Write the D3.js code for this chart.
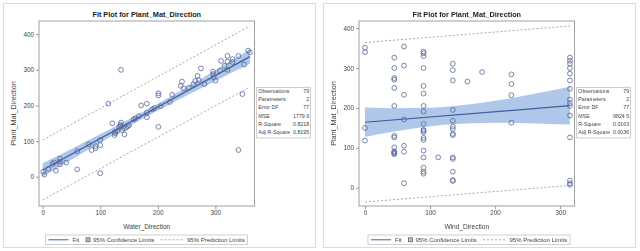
<!DOCTYPE html>
<html>
<head>
<meta charset="utf-8">
<script src="https://cdn.jsdelivr.net/npm/d3@7/dist/d3.min.js"></script>
<style>
  html, body { margin: 0; padding: 0; background: #fff; }
  svg { display: block; font-family: "Liberation Sans", Arial, sans-serif; opacity: 0.999; }
</style>
</head>
<body>
<svg width="640" height="251"></svg>
<script>
// ---- left panel: Water_Direction ----
var waterX = [1, 3, 17, 20, 23, 30, 30, 41, 60, 60, 80, 85, 92, 100, 100, 100, 114, 121, 125, 126,
    130, 136, 136, 136, 138, 141, 142, 148, 158, 161, 167, 171, 181, 181, 181, 190, 194, 201, 201, 201,
    221, 225, 240, 242, 245, 254, 265, 269, 271, 275, 281, 296, 296, 297, 300, 308, 310, 316, 321, 321,
    321, 330, 340, 340, 347, 350, 357, 360, 135, 133, 145, 126, 150, 30, 10, 92, 205, 262, 330];
var waterY = [14, 6, 36, 40, 17, 51, 35, 40, 72, 21, 91, 75, 86, 103, 89, 10, 205, 150, 117, 126,
    128, 152, 142, 300, 131, 136, 119, 142, 161, 164, 170, 200, 205, 167, 180, 189, 193, 234, 228, 140,
    210, 230, 255, 267, 248, 250, 269, 283, 271, 304, 260, 295, 288, 279, 270, 298, 325, 311, 339, 323,
    300, 330, 339, 75, 232, 315, 354, 349, 146, 140, 138, 122, 145, 43, 22, 80, 198, 260, 322];
var waterFitX = [0, 360];
var waterFitY = [19, 337];
var waterPredLo = [-65, 252];
var waterPredHi = [103, 423];
var waterBandX = [0, 60, 120, 175, 240, 300, 360];
var waterBandLo = [0, 57.6, 114.2, 164.1, 219.7, 268.9, 317.2];
var waterBandHi = [38, 86.4, 135.8, 182.9, 242.3, 299.1, 356.8];
var waterStats = ["79", "2", "77", "1779.9", "0.8218", "0.8195"];

// ---- right panel: Wind_Direction ----
var windX = [0, 0, 0, 0,
    45, 45, 45, 45, 45, 45, 45, 45, 45, 45, 45, 45, 45,
    60, 60, 60, 60, 60, 60, 60,
    90, 90, 90, 90, 90, 90, 90, 90, 90, 90, 90, 90, 90, 90, 90, 90, 90, 90, 90,
    112.5,
    135, 135, 135, 135, 135, 135, 135, 135, 135, 135, 135, 135, 135, 135,
    157.5, 180,
    225, 225, 225, 225,
    315, 315, 315, 315, 315, 315, 315, 315, 315, 315, 315, 315, 315, 315, 315];
var windY = [351, 340, 150, 118,
    326, 300, 275, 271, 250, 205, 130, 126, 101, 91, 88, 86, 84,
    354, 306, 233, 171, 105, 90, 11,
    341, 337, 330, 300, 255, 236, 205, 191, 160, 143, 139, 125, 120, 93, 76, 50, 40, 35, 145,
    76,
    311, 295, 269, 195, 168, 153, 147, 135, 132, 76, 72, 40, 19, 17,
    266, 290,
    284, 260, 232, 163,
    326, 318, 311, 300, 286, 269, 248, 221, 212, 205, 181, 126, 18, 11, 7];
var windFitX = [0, 315];
var windFitY = [164, 205.6];
var windPredLo = [-36, 5.6];
var windPredHi = [364, 405.6];
var windBandX = [0, 50, 100, 130, 200, 250, 315];
var windBandLo = [127, 141.8, 153.8, 158.8, 163, 161.8, 158.1];
var windBandHi = [201, 199.4, 200.6, 203.6, 217.8, 232.2, 253.1];
var windStats = ["79", "2", "77", "9824.5", "0.0163", "0.0036"];

var statNames = ["Observations", "Parameters", "Error DF", "MSE", "R-Square", "Adj R-Square"];
var xTicks = [0, 100, 200, 300];
var yTicks = [0, 100, 200, 300, 400];
var title = "Fit Plot for Plant_Mat_Direction";
var yLabel = "Plant_Mat_Direction";

var lineColor = "#3f5e9e",
    bandColor = "#a6c1e5",
    markColor = "#56679a",
    predColor = "#a8a8a8",
    textColor = "#444";

function drawPanel(svg, ox, p) {
    var g = svg.append("g").attr("transform", "translate(" + ox + ",0)");
    var left = 39, right = 254.5, top = 21, bottom = 206;

    g.append("rect")
        .attr("x", 3.5).attr("y", 3.5).attr("width", 312).attr("height", 244)
        .attr("fill", "#fff").attr("stroke", "#dcdcdc");

    var x = d3.scaleLinear().domain(p.xDomain).range([left, right]);
    var y = d3.scaleLinear().domain(p.yDomain).range([bottom, top]);

    // prediction limits
    [p.predLo, p.predHi].forEach(function(vals) {
        g.append("line")
            .attr("x1", x(p.fitX[0])).attr("y1", y(vals[0]))
            .attr("x2", x(p.fitX[1])).attr("y2", y(vals[1]))
            .attr("stroke", predColor).attr("stroke-width", 1)
            .attr("stroke-dasharray", "2,2");
    });

    // confidence band
    var band = d3.area()
        .x(function(d, i) { return x(p.bandX[i]); })
        .y0(function(d, i) { return y(p.bandLo[i]); })
        .y1(function(d, i) { return y(p.bandHi[i]); })
        .curve(d3.curveMonotoneX);
    g.append("path")
        .attr("d", band(p.bandX))
        .attr("fill", bandColor).attr("fill-opacity", 0.9);

    // fit line
    g.append("line")
        .attr("x1", x(p.fitX[0])).attr("y1", y(p.fitY[0]))
        .attr("x2", x(p.fitX[1])).attr("y2", y(p.fitY[1]))
        .attr("stroke", lineColor).attr("stroke-width", 1.2);

    // observations
    g.append("g").selectAll("circle")
        .data(p.xs)
        .enter()
            .append("circle")
            .attr("cx", function(d) { return x(d); })
            .attr("cy", function(d, i) { return y(p.ys[i]); })
            .attr("r", 2.4)
            .attr("fill", "none")
            .attr("stroke", markColor)
            .attr("stroke-width", 0.8);

    // plot frame
    g.append("rect")
        .attr("x", left).attr("y", top)
        .attr("width", right - left).attr("height", bottom - top)
        .attr("fill", "none").attr("stroke", "#a0a0a0");

    var xAxis = g.append("g")
        .attr("transform", "translate(0," + bottom + ")")
        .call(d3.axisBottom(x).tickValues(xTicks).tickSize(3).tickPadding(2));
    var yAxis = g.append("g")
        .attr("transform", "translate(" + left + ",0)")
        .call(d3.axisLeft(y).tickValues(yTicks).tickSize(3).tickPadding(2));
    [xAxis, yAxis].forEach(function(a) {
        a.select(".domain").remove();
        a.selectAll("line").attr("stroke", "#999");
        a.selectAll("text")
            .attr("fill", textColor)
            .style("font-size", "6.3px")
            .style("font-family", "'Liberation Sans', Arial, sans-serif");
    });

    g.append("text")
        .attr("x", (left + right) / 2).attr("y", 16.5)
        .attr("text-anchor", "middle")
        .attr("font-weight", "bold").attr("font-size", 7.3)
        .attr("fill", "#222")
        .text(title);

    g.append("text")
        .attr("x", (left + right) / 2).attr("y", 228.5)
        .attr("text-anchor", "middle")
        .attr("font-size", 6.6).attr("fill", textColor)
        .text(p.xLabel);

    g.append("text")
        .attr("transform", "translate(15.5," + ((top + bottom) / 2) + ") rotate(-90)")
        .attr("text-anchor", "middle")
        .attr("font-size", 7.2).attr("fill", textColor)
        .text(yLabel);

    // fit statistics
    var sg = g.append("g");
    sg.append("rect")
        .attr("x", 256.5).attr("y", 87.5).attr("width", 54).attr("height", 50.5)
        .attr("fill", "#fff").attr("stroke", "#cfcfcf");
    statNames.forEach(function(name, i) {
        var yy = 93 + i * 8.2;
        sg.append("text").attr("x", 258.3).attr("y", yy)
            .attr("font-size", 5.3).attr("fill", textColor).text(name);
        sg.append("text").attr("x", 309.2).attr("y", yy)
            .attr("text-anchor", "end")
            .attr("font-size", 5.3).attr("fill", textColor).text(p.stats[i]);
    });

    // legend
    var lg = g.append("g");
    var lx = p.legendX;
    lg.append("rect")
        .attr("x", lx).attr("y", 235).attr("width", 202).attr("height", 9.5)
        .attr("fill", "#fff").attr("stroke", "#cfcfcf");
    lg.append("line")
        .attr("x1", lx + 3).attr("x2", lx + 23).attr("y1", 239.8).attr("y2", 239.8)
        .attr("stroke", lineColor).attr("stroke-width", 1);
    lg.append("text").attr("x", lx + 27).attr("y", 242)
        .attr("font-size", 6).attr("fill", textColor).text("Fit");
    lg.append("rect")
        .attr("x", lx + 40.5).attr("y", 237.8).attr("width", 4).attr("height", 4)
        .attr("fill", bandColor).attr("stroke", "#555").attr("stroke-width", 0.7);
    lg.append("text").attr("x", lx + 47.5).attr("y", 242)
        .attr("font-size", 6).attr("fill", textColor).text("95% Confidence Limits");
    lg.append("line")
        .attr("x1", lx + 115).attr("x2", lx + 137).attr("y1", 239.8).attr("y2", 239.8)
        .attr("stroke", predColor).attr("stroke-width", 1).attr("stroke-dasharray", "2,2");
    lg.append("text").attr("x", lx + 141.5).attr("y", 242)
        .attr("font-size", 6).attr("fill", textColor).text("95% Prediction Limits");
}

var svg = d3.select("svg");

drawPanel(svg, 0, {
    xs: waterX, ys: waterY,
    fitX: waterFitX, fitY: waterFitY,
    predLo: waterPredLo, predHi: waterPredHi,
    bandX: waterBandX, bandLo: waterBandLo, bandHi: waterBandHi,
    stats: waterStats,
    xDomain: [-6.4, 368], yDomain: [-82, 437],
    xLabel: "Water_Direction",
    legendX: 45.5
});

drawPanel(svg, 320, {
    xs: windX, ys: windY,
    fitX: windFitX, fitY: windFitY,
    predLo: windPredLo, predHi: windPredHi,
    bandX: windBandX, bandLo: windBandLo, bandHi: windBandHi,
    stats: windStats,
    xDomain: [-9.2, 322], yDomain: [-46, 418],
    xLabel: "Wind_Direction",
    legendX: 48
});
</script>
</body>
</html>
